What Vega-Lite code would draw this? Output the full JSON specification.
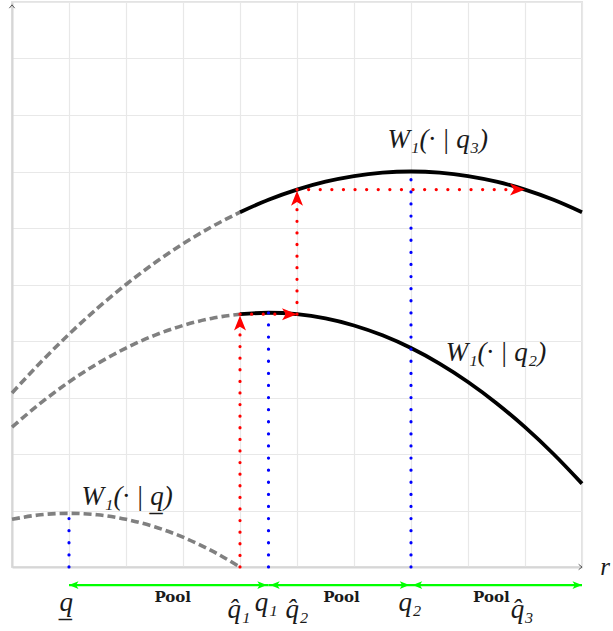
{
  "$schema": "https://vega.github.io/schema/vega-lite/v6.json",
  "width": 570,
  "height": 565,
  "autosize": {"type": "none"},
  "padding": {"left": 12, "top": 2, "right": 31, "bottom": 64},
  "background": "white",
  "config": {
    "view": {"stroke": "#e3e3e3", "strokeWidth": 2},
    "axis": {"labels": false, "ticks": false, "title": null, "grid": true, "gridColor": "#e8e8e8", "gridWidth": 1.2, "domainColor": "#d6d6d6", "domainWidth": 2}
  },
  "datasets": {
    "curves": [
      {"curve": "q3", "part": "dashed", "x": 0, "y": 3.08},
      {"curve": "q3", "part": "dashed", "x": 0.5, "y": 3.62},
      {"curve": "q3", "part": "dashed", "x": 1, "y": 4.12},
      {"curve": "q3", "part": "dashed", "x": 1.5, "y": 4.58},
      {"curve": "q3", "part": "dashed", "x": 2, "y": 5.0},
      {"curve": "q3", "part": "dashed", "x": 2.5, "y": 5.38},
      {"curve": "q3", "part": "dashed", "x": 3, "y": 5.72},
      {"curve": "q3", "part": "dashed", "x": 3.5, "y": 6.02},
      {"curve": "q3", "part": "dashed", "x": 4, "y": 6.28},
      {"curve": "q3", "part": "solid", "x": 4, "y": 6.28},
      {"curve": "q3", "part": "solid", "x": 4.5, "y": 6.5},
      {"curve": "q3", "part": "solid", "x": 5, "y": 6.68},
      {"curve": "q3", "part": "solid", "x": 5.5, "y": 6.82},
      {"curve": "q3", "part": "solid", "x": 6, "y": 6.92},
      {"curve": "q3", "part": "solid", "x": 6.5, "y": 6.98},
      {"curve": "q3", "part": "solid", "x": 7, "y": 7.0},
      {"curve": "q3", "part": "solid", "x": 7.5, "y": 6.98},
      {"curve": "q3", "part": "solid", "x": 8, "y": 6.92},
      {"curve": "q3", "part": "solid", "x": 8.5, "y": 6.82},
      {"curve": "q3", "part": "solid", "x": 9, "y": 6.68},
      {"curve": "q3", "part": "solid", "x": 9.5, "y": 6.5},
      {"curve": "q3", "part": "solid", "x": 10, "y": 6.28},
      {"curve": "q2", "part": "dashed", "x": 0, "y": 2.475},
      {"curve": "q2", "part": "dashed", "x": 0.5, "y": 2.9},
      {"curve": "q2", "part": "dashed", "x": 1, "y": 3.275},
      {"curve": "q2", "part": "dashed", "x": 1.5, "y": 3.6},
      {"curve": "q2", "part": "dashed", "x": 2, "y": 3.875},
      {"curve": "q2", "part": "dashed", "x": 2.5, "y": 4.1},
      {"curve": "q2", "part": "dashed", "x": 3, "y": 4.275},
      {"curve": "q2", "part": "dashed", "x": 3.5, "y": 4.4},
      {"curve": "q2", "part": "dashed", "x": 4, "y": 4.475},
      {"curve": "q2", "part": "solid", "x": 4, "y": 4.475},
      {"curve": "q2", "part": "solid", "x": 4.5, "y": 4.5},
      {"curve": "q2", "part": "solid", "x": 5, "y": 4.475},
      {"curve": "q2", "part": "solid", "x": 5.5, "y": 4.4},
      {"curve": "q2", "part": "solid", "x": 6, "y": 4.275},
      {"curve": "q2", "part": "solid", "x": 6.5, "y": 4.1},
      {"curve": "q2", "part": "solid", "x": 7, "y": 3.875},
      {"curve": "q2", "part": "solid", "x": 7.5, "y": 3.6},
      {"curve": "q2", "part": "solid", "x": 8, "y": 3.275},
      {"curve": "q2", "part": "solid", "x": 8.5, "y": 2.9},
      {"curve": "q2", "part": "solid", "x": 9, "y": 2.475},
      {"curve": "q2", "part": "solid", "x": 9.5, "y": 2.0},
      {"curve": "q2", "part": "solid", "x": 10, "y": 1.475},
      {"curve": "q", "part": "dashed", "x": 0, "y": 0.844},
      {"curve": "q", "part": "dashed", "x": 0.5, "y": 0.924},
      {"curve": "q", "part": "dashed", "x": 1, "y": 0.95},
      {"curve": "q", "part": "dashed", "x": 1.5, "y": 0.924},
      {"curve": "q", "part": "dashed", "x": 2, "y": 0.844},
      {"curve": "q", "part": "dashed", "x": 2.5, "y": 0.712},
      {"curve": "q", "part": "dashed", "x": 3, "y": 0.528},
      {"curve": "q", "part": "dashed", "x": 3.5, "y": 0.29},
      {"curve": "q", "part": "dashed", "x": 4, "y": 0.0}
    ],
    "segments": [
      {"kind": "blue", "x": 1, "y": 0, "x2": 1, "y2": 0.95},
      {"kind": "blue", "x": 4.5, "y": 0, "x2": 4.5, "y2": 4.5},
      {"kind": "blue", "x": 7, "y": 0, "x2": 7, "y2": 7.0},
      {"kind": "red", "x": 4, "y": 0, "x2": 4, "y2": 4.45},
      {"kind": "red", "x": 4, "y": 4.475, "x2": 5, "y2": 4.475},
      {"kind": "red", "x": 5, "y": 4.475, "x2": 5, "y2": 6.66},
      {"kind": "red", "x": 5, "y": 6.68, "x2": 9, "y2": 6.68},
      {"kind": "green", "x": 1, "y": -0.32, "x2": 4.5, "y2": -0.32},
      {"kind": "green", "x": 4.5, "y": -0.32, "x2": 7, "y2": -0.32},
      {"kind": "green", "x": 7, "y": -0.32, "x2": 10, "y2": -0.32}
    ],
    "heads": [
      {"kind": "red", "dir": "up", "x": 4, "y": 4.45},
      {"kind": "red", "dir": "right", "x": 5, "y": 4.475},
      {"kind": "red", "dir": "up", "x": 5, "y": 6.66},
      {"kind": "red", "dir": "right", "x": 9, "y": 6.68},
      {"kind": "green", "dir": "left", "x": 1, "y": -0.32},
      {"kind": "green", "dir": "right", "x": 4.47, "y": -0.32},
      {"kind": "green", "dir": "left", "x": 4.53, "y": -0.32},
      {"kind": "green", "dir": "right", "x": 6.97, "y": -0.32},
      {"kind": "green", "dir": "left", "x": 7.03, "y": -0.32},
      {"kind": "green", "dir": "right", "x": 10, "y": -0.32},
      {"kind": "axis", "dir": "right", "x": 10, "y": 0},
      {"kind": "axis", "dir": "up", "x": 0, "y": 9.95}
    ],
    "labels": [
      {"kind": "curve", "x": 7.47, "y": 7.56, "text": "W₁(· | q₃)"},
      {"kind": "curve", "x": 8.49, "y": 3.79, "text": "W₁(· | q₂)"},
      {"kind": "curve", "x": 2.02, "y": 1.24, "text": "W₁(· | q̲)"},
      {"kind": "pool", "x": 2.82, "y": -0.53, "text": "Pool"},
      {"kind": "pool", "x": 5.78, "y": -0.53, "text": "Pool"},
      {"kind": "pool", "x": 8.41, "y": -0.53, "text": "Pool"},
      {"kind": "point", "x": 0.95, "y": -0.78, "text": "q̲"},
      {"kind": "point", "x": 4.46, "y": -0.78, "text": "q₁"},
      {"kind": "point", "x": 6.98, "y": -0.78, "text": "q₂"},
      {"kind": "hat", "x": 3.98, "y": -0.9, "text": "q̂₁"},
      {"kind": "hat", "x": 5.0, "y": -0.9, "text": "q̂₂"},
      {"kind": "hat", "x": 8.95, "y": -0.9, "text": "q̂₃"},
      {"kind": "axis", "x": 10.32, "y": 0, "text": "r"}
    ]
  },
  "encoding": {
    "x": {"field": "x", "type": "quantitative", "scale": {"domain": [0, 10], "nice": false, "zero": false}, "axis": {"values": [0, 1, 2, 3, 4, 5, 6, 7, 8, 9, 10]}},
    "y": {"field": "y", "type": "quantitative", "scale": {"domain": [0, 10], "nice": false, "zero": false}, "axis": {"values": [0, 1, 2, 3, 4, 5, 6, 7, 8, 9, 10]}}
  },
  "layer": [
    {
      "data": {"name": "curves"},
      "transform": [{"filter": "datum.part === 'dashed'"}],
      "mark": {"type": "line", "color": "#808080", "strokeWidth": 3.6, "strokeDash": [8, 4], "interpolate": "monotone"},
      "encoding": {"detail": {"field": "curve"}}
    },
    {
      "data": {"name": "curves"},
      "transform": [{"filter": "datum.part === 'solid'"}],
      "mark": {"type": "line", "color": "#000000", "strokeWidth": 3.8, "interpolate": "monotone"},
      "encoding": {"detail": {"field": "curve"}}
    },
    {
      "data": {"name": "segments"},
      "transform": [{"filter": "datum.kind === 'blue'"}],
      "mark": {"type": "rule", "color": "#0000ff", "strokeWidth": 3.2, "strokeCap": "round", "strokeDash": [0.1, 12]},
      "encoding": {"x2": {"field": "x2"}, "y2": {"field": "y2"}}
    },
    {
      "data": {"name": "segments"},
      "transform": [{"filter": "datum.kind === 'red'"}],
      "mark": {"type": "rule", "color": "#ff0000", "strokeWidth": 3.2, "strokeCap": "round", "strokeDash": [0.1, 11.5]},
      "encoding": {"x2": {"field": "x2"}, "y2": {"field": "y2"}}
    },
    {
      "data": {"name": "segments"},
      "transform": [{"filter": "datum.kind === 'green'"}],
      "mark": {"type": "rule", "color": "#00ff00", "strokeWidth": 2.2},
      "encoding": {"x2": {"field": "x2"}, "y2": {"field": "y2"}}
    },
    {
      "data": {"name": "heads"},
      "transform": [{"filter": "datum.kind === 'red' && datum.dir === 'right'"}],
      "mark": {"type": "point", "filled": true, "opacity": 1, "color": "#ff0000", "size": 225, "shape": "M0,0L-2,-0.8L-1.5,0L-2,0.8Z", "angle": 0}
    },
    {
      "data": {"name": "heads"},
      "transform": [{"filter": "datum.kind === 'red' && datum.dir === 'up'"}],
      "mark": {"type": "point", "filled": true, "opacity": 1, "color": "#ff0000", "size": 225, "shape": "M0,0L-2,-0.8L-1.5,0L-2,0.8Z", "angle": 270}
    },
    {
      "data": {"name": "heads"},
      "transform": [{"filter": "datum.kind === 'green' && datum.dir === 'right'"}],
      "mark": {"type": "point", "filled": true, "opacity": 1, "color": "#00ff00", "size": 90, "shape": "M0,0L-2,-0.8L-1.5,0L-2,0.8Z", "angle": 0}
    },
    {
      "data": {"name": "heads"},
      "transform": [{"filter": "datum.kind === 'green' && datum.dir === 'left'"}],
      "mark": {"type": "point", "filled": true, "opacity": 1, "color": "#00ff00", "size": 90, "shape": "M0,0L-2,-0.8L-1.5,0L-2,0.8Z", "angle": 180}
    },
    {
      "data": {"name": "heads"},
      "transform": [{"filter": "datum.kind === 'axis' && datum.dir === 'right'"}],
      "mark": {"type": "point", "filled": false, "opacity": 1, "color": "#333333", "strokeWidth": 0.8, "size": 20, "shape": "M-1.5,-1.2L0,0L-1.5,1.2", "angle": 0}
    },
    {
      "data": {"name": "heads"},
      "transform": [{"filter": "datum.kind === 'axis' && datum.dir === 'up'"}],
      "mark": {"type": "point", "filled": false, "opacity": 1, "color": "#333333", "strokeWidth": 0.8, "size": 20, "shape": "M-1.5,-1.2L0,0L-1.5,1.2", "angle": 270}
    },
    {
      "data": {"name": "labels"},
      "transform": [{"filter": "datum.kind === 'curve'"}],
      "mark": {"type": "text", "font": "Liberation Serif", "fontStyle": "italic", "fontSize": 27, "color": "#1a1a1a", "align": "center", "baseline": "middle"},
      "encoding": {"text": {"field": "text"}}
    },
    {
      "data": {"name": "labels"},
      "transform": [{"filter": "datum.kind === 'pool'"}],
      "mark": {"type": "text", "font": "DejaVu Serif", "fontWeight": "bold", "fontSize": 15, "color": "#1a1a1a", "align": "center", "baseline": "middle"},
      "encoding": {"text": {"field": "text"}}
    },
    {
      "data": {"name": "labels"},
      "transform": [{"filter": "datum.kind === 'point' || datum.kind === 'hat'"}],
      "mark": {"type": "text", "font": "Liberation Serif", "fontStyle": "italic", "fontSize": 27, "color": "#1a1a1a", "align": "center", "baseline": "alphabetic"},
      "encoding": {"text": {"field": "text"}}
    },
    {
      "data": {"name": "labels"},
      "transform": [{"filter": "datum.kind === 'axis'"}],
      "mark": {"type": "text", "font": "Liberation Serif", "fontStyle": "italic", "fontSize": 25, "color": "#1a1a1a", "align": "left", "baseline": "middle"},
      "encoding": {"text": {"field": "text"}}
    }
  ]
}
